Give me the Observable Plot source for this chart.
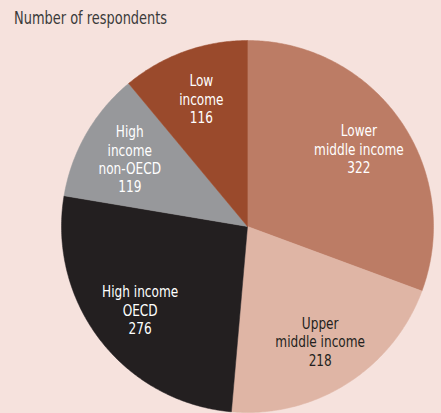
<!DOCTYPE html>
<html>
<head>
<meta charset="utf-8">
<script src="https://cdn.jsdelivr.net/npm/d3@7"></script>
<script src="https://cdn.jsdelivr.net/npm/@observablehq/plot@0.6"></script>
<style>
  html, body { margin: 0; padding: 0; background: #f6e2dd; }
  #wrap { width: 441px; height: 413px; overflow: hidden; background: #f6e2dd; }
  #title { font-family: "Liberation Sans Narrow", "DejaVu Sans Condensed", sans-serif;
           font-size: 18px; line-height: 18px; height: 18px; padding: 9px 0 0 14px; color: #3a3a3a; }
  #title span { display: inline-block; transform: scaleX(0.8); transform-origin: 0 0; white-space: nowrap; }
  svg { display: block; }
</style>
</head>
<body>
<div id="wrap">
  <div id="title"><span>Number of respondents</span></div>
  <div id="chart"></div>
</div>
<script>
const categories = ["Lower middle income", "Upper middle income", "High income OECD", "High income non-OECD", "Low income"];
const labels = ["Lower\nmiddle income\n322", "Upper\nmiddle income\n218", "High income\nOECD\n276", "High\nincome\nnon-OECD\n119", "Low\nincome\n116"];
const values = [322, 218, 276, 119, 116];
const colors = ["#bc7c65", "#dfb5a5", "#231f20", "#97989b", "#9a4a2c"];

const arcs = d3.pie().sort(null).value(d => d)(values);

// polygon outline of each slice in unit coordinates
const outline = [];
arcs.forEach((a, i) => {
  outline.push({category: categories[i], x: 0, y: 0});
  const n = Math.max(2, Math.ceil((a.endAngle - a.startAngle) / 0.01));
  for (let k = 0; k <= n; k++) {
    const t = a.startAngle + (a.endAngle - a.startAngle) * k / n;
    outline.push({category: categories[i], x: Math.sin(t), y: Math.cos(t)});
  }
  outline.push({category: categories[i], x: 0, y: 0});
});

const labelR = 0.73;
const labelData = arcs.map((a, i) => {
  const m = (a.startAngle + a.endAngle) / 2;
  return {category: categories[i], text: labels[i], x: labelR * Math.sin(m), y: labelR * Math.cos(m)};
});

const H = 386, cx = 247, cy = 199, R = 186;
const font = '"Liberation Sans Narrow", "DejaVu Sans Condensed", sans-serif';

const chart = Plot.plot({
  width: 441,
  height: H,
  margin: 0,
  style: {background: "transparent", fontFamily: font},
  x: {domain: [-1, 1], range: [cx - R, cx + R], axis: null},
  y: {domain: [-1, 1], range: [cy + R, cy - R], axis: null},
  color: {domain: categories, range: colors},
  marks: [
    Plot.line(outline, {x: "x", y: "y", z: "category", fill: "category", stroke: "category", strokeWidth: 0.5, curve: "linear"}),
    Plot.text(labelData.filter(d => d.category !== "Upper middle income"), {
      x: "x", y: "y", text: "text", fill: "white", fontSize: 15.5, lineHeight: 1.19, fontFamily: font
    }),
    Plot.text(labelData.filter(d => d.category === "Upper middle income"), {
      x: "x", y: "y", text: "text", fill: "#231f20", fontSize: 15.5, lineHeight: 1.19, fontFamily: font
    })
  ]
});
document.getElementById("chart").appendChild(chart);

// emulate a condensed face: squeeze each label horizontally about its anchor
chart.querySelectorAll("g[aria-label='text'] text").forEach(t => {
  let tr = t.getAttribute("transform") || "";
  const x = t.getAttribute("x"), y = t.getAttribute("y");
  if (x != null || y != null) {
    tr = `translate(${x || 0},${y || 0}) ` + tr;
    t.removeAttribute("x"); t.removeAttribute("y");
    t.querySelectorAll("tspan").forEach(s => { if (s.getAttribute("x") != null) s.setAttribute("x", 0); });
  }
  t.setAttribute("transform", tr + " scale(0.87,1)");
});
</script>
</body>
</html>
